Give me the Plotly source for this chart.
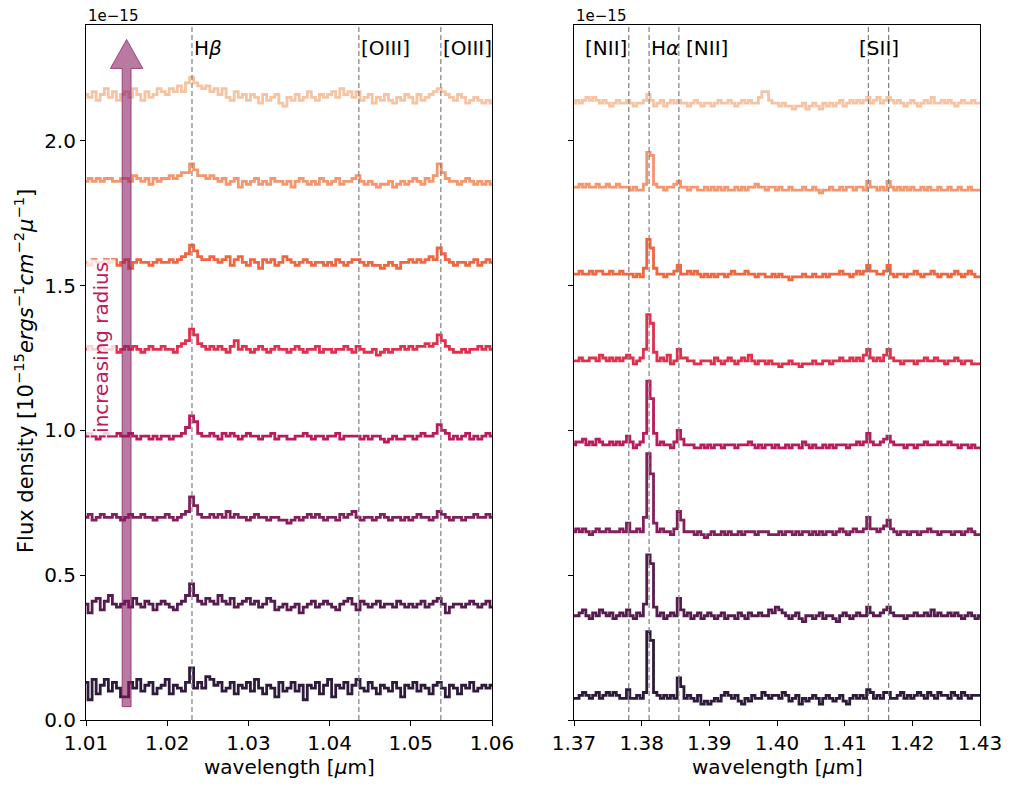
import numpy as np
import plotly.graph_objects as go

# wavelength sampling of the two windows [micron]
wl_blue = np.round(np.arange(1.010, 1.06001, 0.0005), 4)  # 101 samples
wl_red = np.round(np.arange(1.370, 1.43001, 0.0005), 4)  # 121 samples

# continuum level of each annulus (inner -> outer), in units of 1e-15
levels_blue = [0.11, 0.40, 0.70, 0.98, 1.28, 1.58, 1.86, 2.15]
levels_red = [0.075, 0.36, 0.65, 0.95, 1.24, 1.54, 1.84, 2.13]

# flux around the level, in units of 1e-17
blue_0 = [2, -4, 3, -2, 1, 3, -1, 2, 0, -3,
          -3, 2, 0, 3, -1, 1, 2, -2, 0, 1,
          3, -2, 1, 0, -1, 2, 7, 0, 2, 0,
          4, 3, 1, 2, -1, 0, 2, -2, 1, 0,
          2, -1, 3, 0, -2, 1, 0, -3, 2, -1,
          0, 2, -1, 1, -4, 1, 0, 2, -2, 1,
          3, -3, 1, 0, 2, -2, 1, 3, 0, -1,
          2, 0, -2, 1, 0, -1, 2, 0, -3, 1,
          0, 2, -1, 1, 0, -2, 1, 2, 0, -3,
          1, 0, -2, 1, 0, 2, -1, 0, 1, 0,
          1]
blue_1 = [0, -3, 1, 2, -2, 1, 3, 0, -1, 0,
          1, -1, 2, 0, -1, 1, 0, -2, 0, 1,
          0, -1, -2, 0, 1, 3, 7, 3, 1, 0,
          2, 1, 0, 3, 1, 0, 2, -1, 0, 1,
          2, 0, 1, -1, 0, 2, 1, -2, -1, 0,
          -2, -1, 0, -3, -1, 0, 1, -1, 0, 1,
          0, -1, -2, 0, 1, 2, 0, -2, 1, 0,
          -1, 0, 1, -1, 0, 0, -1, 1, 0, -1,
          0, -1, 0, 1, -1, 0, 1, 2, 0, -3,
          -1, 0, 0, -1, 0, 1, 0, -1, 0, 1,
          -1]
blue_2 = [0, 1, -1, 0, 1, 0, 0, 1, 0, -1,
          0, 1, 0, 0, 1, 0, 0, -1, 0, 0,
          1, 0, -1, 0, 1, 2, 7, 4, 1, 0,
          0, 1, 0, 1, 0, 2, 0, 1, 0, 0,
          -1, 0, 1, 0, 0, -1, 0, 0, -1, -1,
          -2, -1, 0, -1, 0, 1, 0, 1, 0, -1,
          0, 0, -1, 1, 0, 1, 2, 0, -1, 0,
          0, -1, 0, 1, 0, -1, 0, 0, -1, 0,
          -1, 0, 1, 0, 0, -1, 0, 2, 1, 0,
          -1, 0, 0, -1, 0, 0, 1, 0, 0, 1,
          0]
blue_3 = [0, 1, 0, -1, 0, 1, 0, 0, 1, 0,
          0, 1, 0, -1, 0, 0, -1, 0, -1, 0,
          0, -1, 0, 0, 1, 3, 7, 5, 1, 0,
          0, 1, 0, -1, 1, 0, 1, 0, -1, 0,
          1, 0, 0, -1, 0, 0, 1, -1, 0, 0,
          -1, -1, 0, 0, 1, 0, -1, 0, 0, -1,
          0, 0, 1, -1, 0, 0, 0, 0, -1, 0,
          -1, 0, 0, -1, -2, -1, 0, -1, -1, 0,
          0, -1, 0, 1, 0, 0, 1, 4, 2, 1,
          -1, 0, -1, 0, 1, -1, 0, -1, 0, 1,
          0]
blue_4 = [0, 1, 0, 0, 1, 0, 0, 1, -1, 0,
          1, 0, 1, 0, -1, 0, 1, 0, 0, 1,
          0, 0, -1, 1, 2, 3, 7, 5, 2, 1,
          0, 1, 0, 1, 0, -1, 1, 3, 0, 1,
          0, -1, 0, 1, 0, -1, 0, 1, 0, 0,
          -1, 0, 1, 0, -1, 0, 0, 1, -1, 0,
          0, -1, 0, 0, 1, 0, -1, 1, 0, -1,
          -1, 0, -2, -1, 0, -1, 0, 0, 1, 0,
          1, 0, 1, 1, 2, 1, 2, 5, 3, 1,
          0, -1, -1, 0, -1, 0, 0, 1, 0, 1,
          0]
blue_5 = [0, -1, 1, 0, 0, 1, 0, 1, -1, 0,
          1, -2, 0, 1, 0, 0, -1, 0, 1, 0,
          0, 1, 0, 1, 2, 3, 6, 4, 2, 1,
          1, 2, 1, 0, 1, 2, -1, 1, 2, 0,
          -1, 1, 0, -2, 1, 0, 1, -1, 0, 2,
          1, 0, -1, 0, 1, 0, -1, 0, 0, -1,
          0, -1, 1, 0, -1, 0, 1, 1, 0, -1,
          0, -1, -1, -2, -1, 0, -1, -2, 0, 0,
          1, 0, 1, 0, 1, 2, 1, 5, 3, 1,
          0, -1, 0, 0, -1, 0, 1, -1, 0, 1,
          0]
blue_6 = [0, 1, 0, 1, 0, 1, 1, 0, 0, 1,
          1, 0, 2, 1, 0, 1, -1, 1, 0, 1,
          1, 2, 1, 2, 3, 3, 6, 4, 2, 2,
          1, 2, 1, 0, 1, -1, 0, 1, -2, 0,
          -1, 0, 1, -1, 0, -1, 1, 0, 0, -1,
          0, -2, 0, 1, 0, -1, 0, -1, 1, 0,
          -1, 0, 1, -1, 0, 0, 1, 2, 0, -1,
          0, -1, -2, -1, -1, 0, -2, -1, 0, -1,
          0, 1, 0, -1, 1, 0, 2, 6, 3, 1,
          0, 0, -1, 0, 1, 0, -1, 0, -1, 0,
          -1]
blue_7 = [1, 0, 2, -1, 1, 3, 0, 2, -1, 1,
          2, 0, 3, 1, -1, 2, 0, 1, 3, 2,
          1, 3, 2, 4, 2, 5, 7, 5, 4, 3,
          4, 2, 3, 1, 3, 0, -1, 2, 0, 1,
          -1, 1, 0, -2, 1, -1, 0, 1, -2, -3,
          0, -1, 1, -1, 0, 2, 0, -1, 1, 0,
          1, 2, 0, 3, 1, 2, 0, 2, -1, 0,
          1, -2, 0, -1, 1, -1, -2, 0, -1, 1,
          0, -2, 1, -1, 0, 1, 2, 3, 2, 1,
          0, -1, 1, 0, -2, -1, 0, -1, -2, -1,
          -2]

red_0 = [0, 0, 1, 2, 1, 0, 1, 2, 0, 1,
         2, 1, 2, 1, 0, 0, 3, 0, 0, 1,
         0, 2, 23, 20, 2, 1, 0, 1, 0, 1,
         0, 7, 4, 0, 1, 0, -1, 1, -2, -1,
         -2, -1, 0, -1, 1, 2, 1, 0, 1, -1,
         -2, 0, -1, 1, 0, 0, 2, 1, 0, 1,
         1, 0, 2, 1, -1, 0, 1, -2, 0, -1,
         0, 1, 0, -2, 0, 1, 0, -1, 0, 1,
         -1, -2, 0, 1, 0, 1, 0, 3, 2, 0,
         1, 0, 2, 2, 0, 0, 1, 2, 0, 1,
         0, 1, 2, 1, 0, 2, 1, 0, 2, 1,
         1, 0, 2, 1, 0, 2, 1, 0, 1, 1,
         1]
red_1 = [0, 0, 1, 2, 0, -1, 1, 0, 2, 1,
         0, 1, -1, 0, 1, 0, 2, 0, -1, 1,
         0, 4, 21, 18, 3, 0, 1, -1, 0, 1,
         0, 6, 2, 0, 1, -1, 0, 1, -1, 0,
         1, 0, -1, 0, 1, -1, 0, 0, -1, 1,
         0, -1, 1, 0, 0, 1, 0, 0, 2, 1,
         3, 2, 1, 0, -1, 0, 1, -1, -2, 0,
         0, -1, 0, 1, -1, 0, 0, -1, -2, 0,
         1, 0, -1, 0, 1, 0, 0, 3, 1, 0,
         0, 1, 2, 3, 1, 0, 0, 0, -1, 0,
         0, 1, 0, 0, 1, 0, 2, 0, 1, 0,
         0, 1, 0, 1, 0, -1, 0, 1, 0, -1,
         0]
red_2 = [0, 1, 0, 1, 0, -1, 0, 1, 0, 0,
         1, 0, 0, 0, 1, 0, 3, 0, 0, 1,
         0, 5, 27, 20, 3, 0, 1, 0, 0, -1,
         1, 7, 4, 0, 0, 0, -1, 0, -1, -2,
         -1, 0, -1, -1, 0, -1, 0, -1, -1, 0,
         -1, 0, 0, 0, -1, 0, 0, 0, -1, -1,
         -1, 0, -1, 0, 0, -1, 0, -1, 0, 0,
         -1, 0, -1, 0, -1, 0, 0, -1, 0, 1,
         0, -1, 0, 1, 0, 0, 1, 5, 1, 1,
         0, 1, 2, 4, 1, 0, -1, 0, 0, -1,
         0, 0, -1, 0, 0, 1, 0, 0, -1, 0,
         0, 0, -1, 0, 0, -1, 0, 1, 0, -1,
         -1]
red_3 = [0, 1, 1, 2, 0, 1, 0, 2, 1, 0,
         0, 1, 0, 1, 0, 1, 3, 1, -1, 0,
         1, 4, 22, 16, 4, 0, 1, 0, 0, -1,
         1, 5, 2, 0, 0, 0, -1, -1, 0, -1,
         0, -1, 0, 0, -1, 0, 0, 0, -1, 0,
         0, 0, 1, 0, -1, 0, -1, 0, 0, -1,
         0, -1, -1, 0, -1, 0, 0, -1, 1, 0,
         -1, 0, -1, -1, 0, -1, 0, -1, 0, 0,
         0, -1, 0, 0, 1, 0, 1, 4, 1, 0,
         0, 1, 2, 3, 1, 0, 0, 0, -1, 0,
         0, -1, 0, 0, 1, 0, 0, 0, 1, 0,
         0, 1, 0, 0, -1, 0, 0, -1, 0, -1,
         -1]
red_4 = [0, 0, 1, 0, 0, 1, 1, 0, 2, 1,
         0, 1, 0, 1, 0, 1, 2, 1, -1, 0,
         1, 4, 16, 13, 3, 0, 1, 0, 2, -1,
         0, 4, 1, 1, 0, 0, -1, -1, 0, 0,
         0, -1, 1, 0, -1, 0, 1, 0, -1, 0,
         1, 0, 2, 0, -1, 0, 0, -1, 0, -1,
         -1, -2, -1, -1, 0, -1, -1, -2, -1, -1,
         -1, 0, -1, -1, 0, 0, -1, 0, 0, 1,
         0, 0, 1, 0, 1, 0, 2, 4, 1, 0,
         1, 0, 2, 4, 1, 0, 0, -1, 0, 0,
         0, -1, 0, 0, 1, 0, 0, 1, 0, 0,
         -1, 0, 0, 1, 0, -1, 0, 0, -1, -1,
         -1]
red_5 = [0, 0, 1, 0, 0, 1, 0, 1, 1, 0,
         0, 1, 0, 0, 1, 0, 0, 0, -1, 0,
         -1, 2, 12, 9, 2, 0, 0, -1, 0, 0,
         1, 3, 0, 0, 1, 0, 1, 0, -1, 0,
         -1, 0, -1, 0, 0, -1, 0, 1, 0, 0,
         0, 1, 0, 0, -1, 0, 0, -1, -1, 0,
         -1, 0, -1, -1, -2, -1, -1, -1, 0, -1,
         -1, 0, -1, -1, 0, -1, 0, 0, 0, 1,
         0, 0, -1, 0, 1, 0, 1, 3, 1, 1,
         0, 0, 1, 3, 0, -1, 0, 0, -1, 0,
         0, 1, 0, -1, 0, 0, 1, 0, -1, 0,
         0, -1, 0, 1, 0, -1, 0, 1, 0, -1,
         -1]
red_6 = [0, 0, 1, 0, 1, 0, 0, 1, 0, 0,
         1, 0, 0, 1, 0, 0, 0, -1, 0, -1,
         -1, 1, 12, 11, 1, 0, 0, -1, 0, 0,
         1, 2, 0, 0, -1, 0, 0, -1, -1, 0,
         -1, 0, -1, 0, -1, 0, -1, -1, 0, -1,
         0, -1, 0, 0, 1, 0, 0, -1, 0, 0,
         -1, 0, -1, -1, 0, -1, -1, -1, 0, -1,
         -1, 0, -1, -2, -1, -1, 0, -1, -1, 0,
         -1, 0, 0, -1, 0, 0, -1, 2, 0, 0,
         -1, 0, -1, 2, 0, -1, 0, -1, 0, -1,
         0, -1, -1, 0, -1, 0, -1, -1, 0, -1,
         -1, 0, -1, -1, 0, -1, -1, 0, -1, -1,
         -1]
red_7 = [0, 1, 0, 1, 2, 1, 2, 1, 0, 1,
         0, -1, 0, 1, 0, 0, 1, 0, -1, 0,
         0, 1, 3, 1, -1, 0, 1, -1, 0, 1,
         0, 1, 0, 0, -1, 0, 1, 0, -1, 0,
         0, -1, 0, 1, 0, 0, 1, 0, -1, 0,
         1, 0, 1, 0, 0, 2, 4, 4, 1, 0,
         0, -1, 0, -1, -1, -2, -1, -1, 0, -2,
         -1, 0, -1, -2, 0, -1, 0, -1, 0, 1,
         -1, 0, 1, 0, 1, 0, 1, 2, 0, 1,
         2, 0, 1, 2, 1, 0, 1, 0, -1, 0,
         1, 0, -1, 0, 1, 0, 2, 0, 0, 1,
         0, 1, 0, -1, 0, 1, 0, 0, 1, 0,
         0]

blue_flux = [blue_0, blue_1, blue_2, blue_3, blue_4, blue_5, blue_6, blue_7]
red_flux = [red_0, red_1, red_2, red_3, red_4, red_5, red_6, red_7]

# rocket-like colours, inner (dark) -> outer (light)
colors = ["#2e1a3b", "#561c4f", "#83205c", "#b91c5c",
          "#e1304b", "#f1653f", "#f5966d", "#f6c4a2"]

# redshifted emission lines
blue_lines = [1.02305, 1.0436, 1.0537]
blue_labels = ["H<i>β</i>", "[OIII]", "[OIII]"]
blue_label_x = [1.02305, 1.0436, 1.0537]
blue_anchor = ["left", "left", "left"]
red_lines = [1.3781, 1.3811, 1.3855, 1.4135, 1.4165]
red_labels = ["[NII]", "H<i>α</i>", "[NII]", "[SII]"]
red_label_x = [1.3781, 1.3811, 1.3862, 1.4150]
red_anchor = ["right", "left", "left", "center"]
label_y = 2.32

# the page body adds an 8px margin, so the figure is made smaller and
# pixel positions (measured on the 1013x790 window) are shifted by OFF
OFF = 8
W, H = 1013 - OFF, 790 - OFF
FONT = "DejaVu Sans"


def px(x):
    return (x - OFF) / W


def py(y):
    return 1 - (y - OFF) / H


fig = go.Figure()

for i in range(8):
    assert len(blue_flux[i]) == len(wl_blue)
    assert len(red_flux[i]) == len(wl_red)
    fig.add_trace(go.Scatter(
        x=wl_blue, y=levels_blue[i] + np.array(blue_flux[i]) * 0.01,
        mode="lines", line=dict(color=colors[i], width=2.8, shape="hvh"),
        xaxis="x", yaxis="y", showlegend=False))
    fig.add_trace(go.Scatter(
        x=wl_red, y=levels_red[i] + np.array(red_flux[i]) * 0.01,
        mode="lines", line=dict(color=colors[i], width=2.8, shape="hvh"),
        xaxis="x2", yaxis="y2", showlegend=False))

shapes = []
for xl in blue_lines:
    shapes.append(dict(type="line", xref="x", yref="y domain", x0=xl, x1=xl, y0=0, y1=1,
                       line=dict(color="#7f7f7f", width=1.2, dash="5px,3px")))
for xl in red_lines:
    shapes.append(dict(type="line", xref="x2", yref="y2 domain", x0=xl, x1=xl, y0=0, y1=1,
                       line=dict(color="#7f7f7f", width=1.2, dash="5px,3px")))

# fat arrow "increasing radius"
ax, ay0, ay1 = 1.015, 0.046, 2.35
shaft_hw, head_hw, head_len = 0.00055, 0.002, 0.10
path = (f"M {ax - shaft_hw},{ay0} L {ax + shaft_hw},{ay0} L {ax + shaft_hw},{ay1 - head_len} "
        f"L {ax + head_hw},{ay1 - head_len} L {ax},{ay1} L {ax - head_hw},{ay1 - head_len} "
        f"L {ax - shaft_hw},{ay1 - head_len} Z")
shapes.append(dict(type="path", xref="x", yref="y", path=path, layer="above",
                   fillcolor="rgba(135,25,95,0.58)",
                   line=dict(color="rgba(135,25,95,0.7)", width=1)))

annotations = []
for txt, xl, anc in zip(blue_labels, blue_label_x, blue_anchor):
    annotations.append(dict(text=txt, x=xl, y=label_y, xref="x", yref="y", xanchor=anc,
                            yanchor="middle", showarrow=False, font=dict(size=20, color="black")))
for txt, xl, anc in zip(red_labels, red_label_x, red_anchor):
    annotations.append(dict(text=txt, x=xl, y=label_y, xref="x2", yref="y2", xanchor=anc,
                            yanchor="middle", showarrow=False, font=dict(size=20, color="black")))

annotations.append(dict(text="increasing radius", x=1.01185, y=1.285, xref="x", yref="y",
                        textangle=-90, showarrow=False, bgcolor="rgba(255,255,255,0.8)",
                        borderpad=2, font=dict(size=20, color="#c2185b")))

xdom1 = [px(86), px(492)]
xdom2 = [px(574), px(980)]
ydom = [py(720), py(25)]

for xd in (xdom1, xdom2):
    annotations.append(dict(text="1e−15", x=xd[0], y=py(16), xref="paper", yref="paper",
                            xanchor="left", yanchor="middle", showarrow=False,
                            font=dict(size=15, color="black")))
    annotations.append(dict(text="wavelength [<i>μ</i>m]", x=(xd[0] + xd[1]) / 2, y=py(767),
                            xref="paper", yref="paper", xanchor="center", yanchor="middle",
                            showarrow=False, font=dict(size=20, color="black")))

annotations.append(dict(
    text="Flux density [10<sup>−15</sup><i>ergs</i><sup>−1</sup><i>cm</i><sup>−2</sup><i>μ</i><sup>−1</sup>]",
    x=px(24), y=py(371), xref="paper", yref="paper", textangle=-90,
    xanchor="center", yanchor="middle", showarrow=False, font=dict(size=21, color="black")))

axis_style = dict(showline=True, linecolor="black", linewidth=1.1, mirror=True, ticks="outside",
                  ticklen=5, tickwidth=1.1, tickcolor="black", showgrid=False, zeroline=False,
                  tickfont=dict(family=FONT, size=20, color="black"), automargin=False)

fig.update_layout(
    width=W, height=H,
    margin=dict(l=0, r=0, t=0, b=0),
    paper_bgcolor="white", plot_bgcolor="white",
    font=dict(family=FONT, color="black"),
    xaxis=dict(domain=xdom1, range=[1.01, 1.06], dtick=0.01, tickformat=".2f", anchor="y", **axis_style),
    yaxis=dict(domain=ydom, range=[0, 2.4], dtick=0.5, tickformat=".1f", anchor="x", **axis_style),
    xaxis2=dict(domain=xdom2, range=[1.37, 1.43], dtick=0.01, tickformat=".2f", anchor="y2", **axis_style),
    yaxis2=dict(domain=ydom, range=[0, 2.4], dtick=0.5, showticklabels=False, anchor="x2", **axis_style),
    shapes=shapes,
    annotations=annotations,
)

fig.write_html("out.html")
